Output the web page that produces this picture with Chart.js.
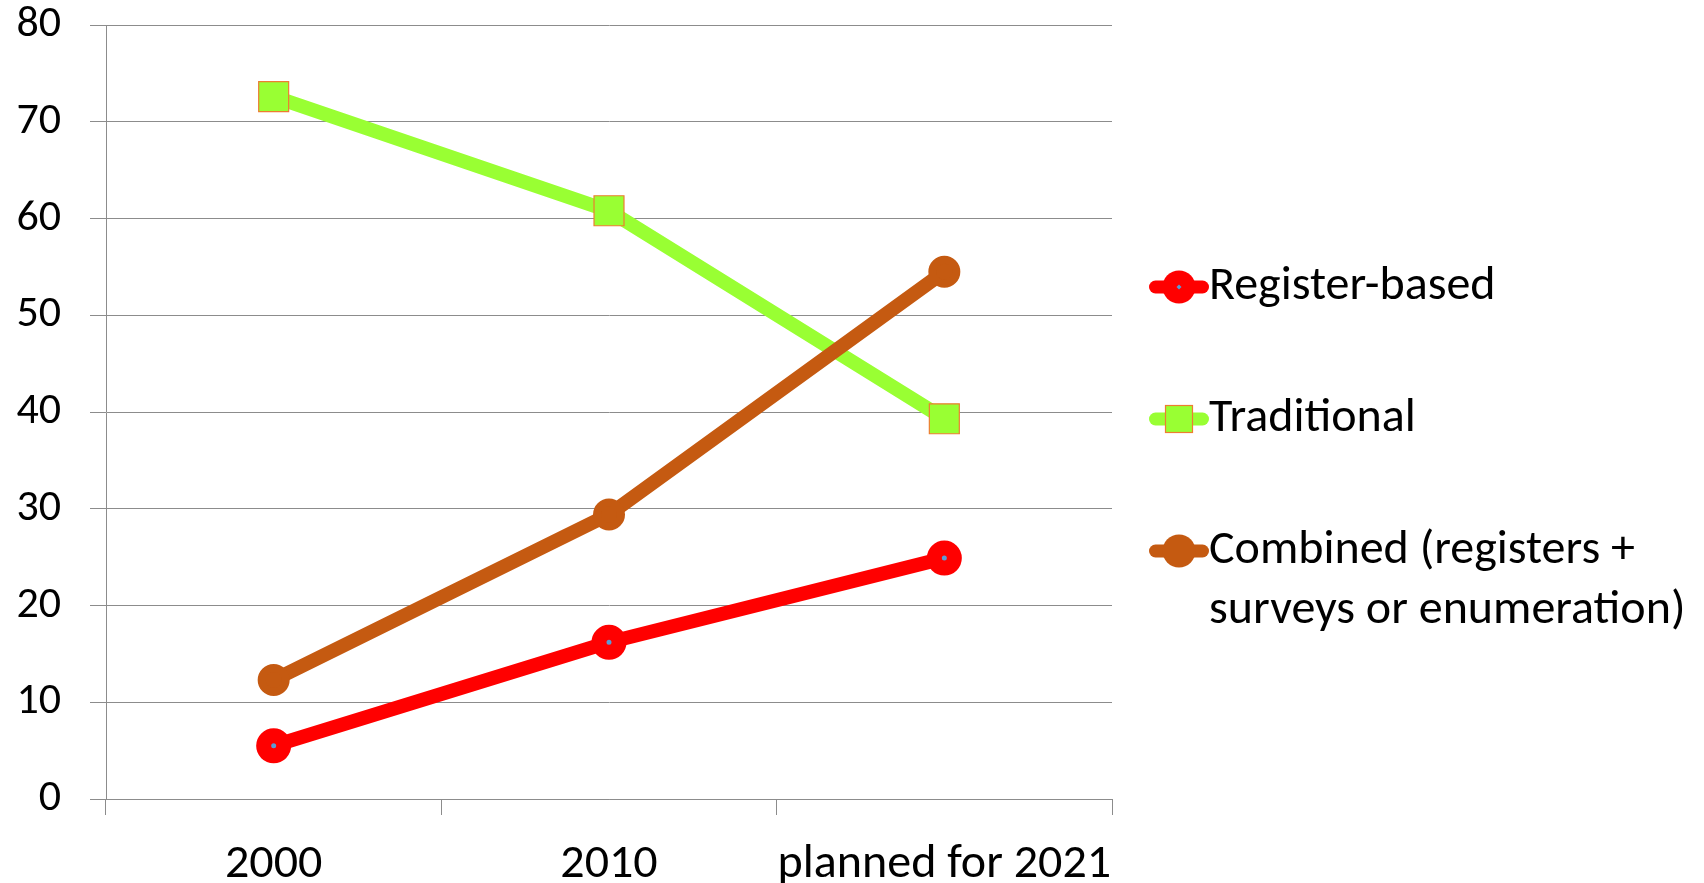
<!DOCTYPE html>
<html><head><meta charset="utf-8">
<script src="https://cdn.jsdelivr.net/npm/chart.js@4/dist/chart.umd.min.js"></script>
<style>html,body{margin:0;padding:0;background:#fff;overflow:hidden}</style>
</head><body>
<canvas id="c" width="1704" height="883"></canvas>
<script>
// ---- data ----
const categories = ['2000', '2010', 'planned for 2021'];
const registerBased = [5.5, 16.2, 24.9];
const traditional = [72.6, 60.8, 39.3];
const combined = [12.3, 29.4, 54.5];
const seriesNames = ['Register-based', 'Traditional', 'Combined (registers + surveys or enumeration)'];
const legendLines = [['Register-based', ''], ['Traditional', ''], ['Combined (registers +', 'surveys or enumeration)']];
const yMin = 0, yMax = 80, yStep = 10;

// ---- style ----
const FONT = 'Carlito, Lato, sans-serif';
const FS_Y = 44, FS_X = 48, FS_L = 48;
const RED = '#ff0000', GREEN = '#99ff33', ORANGE = '#c55a11', BLUE = '#5b9bd5', SQB = '#ed7d31', GRID = '#8c8c8c';

function makeIcon(color, marker) {
  const c = document.createElement('canvas');
  c.width = 109; c.height = 44;
  const g = c.getContext('2d');
  g.strokeStyle = color; g.lineWidth = 13; g.lineCap = 'round';
  g.beginPath(); g.moveTo(55.5, 22); g.lineTo(102.5, 22); g.stroke();
  const cx = 79, cy = 22;
  if (marker === 'reg') {
    g.fillStyle = RED; g.beginPath(); g.arc(cx, cy, 16.5, 0, Math.PI * 2); g.fill();
    g.fillStyle = BLUE; g.beginPath(); g.moveTo(cx, cy - 2.5); g.lineTo(cx + 2.5, cy); g.lineTo(cx, cy + 2.5); g.lineTo(cx - 2.5, cy); g.fill();
  } else if (marker === 'sq') {
    g.fillStyle = GREEN; g.fillRect(cx - 13.5, cy - 13.5, 27, 27);
    g.strokeStyle = SQB; g.lineWidth = 1.2; g.strokeRect(cx - 13.5, cy - 13.5, 27, 27);
  } else {
    g.fillStyle = ORANGE; g.beginPath(); g.arc(cx, cy, 16.5, 0, Math.PI * 2); g.fill();
  }
  return c;
}
const legendIcons = [makeIcon(RED, 'reg'), makeIcon(GREEN, 'sq'), makeIcon(ORANGE, 'circ')];

const mctx = document.createElement('canvas').getContext('2d');
mctx.font = FS_L + 'px ' + FONT;
const longest = mctx.measureText('surveys or enumeration)').width;
const padRight = Math.max(0, 485 - longest);

new Chart(document.getElementById('c'), {
  type: 'line',
  data: {
    labels: categories,
    datasets: [
      { label: seriesNames[0], data: registerBased, order: 2,
        borderColor: RED, borderWidth: 14, borderJoinStyle: 'round', borderCapStyle: 'round',
        pointStyle: 'circle', pointRadius: 10, pointBorderWidth: 15,
        pointBackgroundColor: BLUE, pointBorderColor: RED, tension: 0 },
      { label: seriesNames[1], data: traditional, order: 1,
        borderColor: GREEN, borderWidth: 14, borderJoinStyle: 'round', borderCapStyle: 'round',
        pointStyle: 'rect', pointRadius: 21.2, pointBorderWidth: 1.2,
        pointBackgroundColor: GREEN, pointBorderColor: SQB, tension: 0 },
      { label: seriesNames[2], data: combined, order: 0,
        borderColor: ORANGE, borderWidth: 14, borderJoinStyle: 'round', borderCapStyle: 'round',
        pointStyle: 'circle', pointRadius: 12, pointBorderWidth: 8,
        pointBackgroundColor: ORANGE, pointBorderColor: ORANGE, tension: 0 }
    ]
  },
  options: {
    responsive: false,
    animation: false,
    events: [],
    layout: { padding: { top: 25, right: padRight, bottom: -2, left: 0 } },
    plugins: {
      tooltip: { enabled: false },
      legend: {
        position: 'right',
        align: 'center',
        maxWidth: 700,
        labels: {
          usePointStyle: true,
          pointStyleWidth: 61,
          padding: 12,
          color: '#000',
          font: { family: FONT, size: FS_L, lineHeight: 60 / FS_L },
          generateLabels: (chart) => chart.data.datasets.map((ds, i) => ({
            text: legendLines[i],
            pointStyle: legendIcons[i],
            datasetIndex: i,
            hidden: false,
            fillStyle: 'rgba(0,0,0,0)',
            strokeStyle: 'rgba(0,0,0,0)',
            lineWidth: 0,
            fontColor: '#000'
          }))
        }
      }
    },
    scales: {
      x: {
        offset: true,
        afterFit: (s) => { s.height = 86; },
        grid: { display: true, offset: true, drawOnChartArea: false, drawTicks: true, tickLength: 16, color: GRID, lineWidth: 1 },
        border: { display: true, color: GRID, width: 1 },
        ticks: { color: '#000', padding: 21, maxRotation: 0, autoSkip: false, font: { family: FONT, size: FS_X, lineHeight: 1.2 } }
      },
      y: {
        min: yMin, max: yMax,
        afterFit: (s) => { s.width = 106; s.paddingTop = 0; s.paddingBottom = 0; },
        grid: { color: GRID, lineWidth: 1, tickLength: 16, drawTicks: true },
        border: { display: true, color: GRID, width: 1 },
        ticks: { stepSize: yStep, color: '#000', padding: 29, font: { family: FONT, size: FS_Y, lineHeight: 1 } }
      }
    }
  }
});
</script>
</body></html>
